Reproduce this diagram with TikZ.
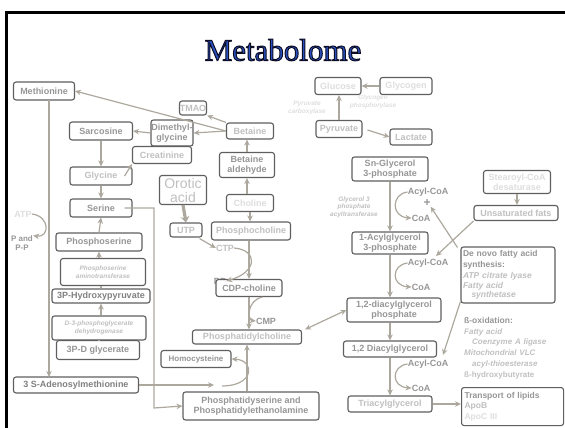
\documentclass[tikz,border=0pt]{standalone}
\usepackage{fontspec}
\setmainfont{Liberation Serif}
\setsansfont{Liberation Sans}
\newfontfamily\titlefont[FakeBold=3.2]{Liberation Serif}
\usetikzlibrary{arrows.meta}
\definecolor{bord}{RGB}{95,95,95}
\definecolor{arrc}{RGB}{173,168,158}
\definecolor{txtA}{RGB}{150,150,150}
\definecolor{txtB}{RGB}{192,192,192}
\definecolor{txtC}{RGB}{222,222,222}
\definecolor{titleblue}{RGB}{40,80,190}
\tikzset{
  box/.style={draw=bord, line width=1.1pt, rounded corners=2.5pt, fill=white,
    inner sep=0pt, align=center, text=txtA,
    font=\sffamily\bfseries\fontsize{9}{10}\selectfont},
  boxsize/.style 2 args={minimum width=#1pt, minimum height=#2pt},
  lite/.style={text=txtB},
  faint/.style={text=txtC},
  enz/.style={box, text=txtB, font=\sffamily\bfseries\itshape\fontsize{6.5}{7.5}\selectfont},
  lbl/.style={inner sep=0pt, text=txtA, align=center, font=\sffamily\bfseries\fontsize{9}{10}\selectfont},
  note/.style={inner sep=0pt, text=txtC, align=center, font=\sffamily\bfseries\itshape\fontsize{6.5}{7.5}\selectfont},
  arr/.style={draw=arrc, line width=1.2pt, -{Stealth[length=6pt,width=5.5pt]}},
  plain/.style={draw=arrc, line width=1.2pt},
  dbl/.style={draw=arrc, line width=1.2pt, {Stealth[length=6pt,width=5.5pt]}-{Stealth[length=6pt,width=5.5pt]}},
}
\begin{document}
\begin{tikzpicture}[x=1pt,y=-1pt]
\useasboundingbox (0,0) rectangle (565,428);
% slide frame
\draw[line width=2.2pt, black] (565,12.5) -- (6.5,12.5) -- (6.5,428);
% title: blue letters with a dark stroked outline
\node[font=\titlefont\fontsize{31}{34}\selectfont] (title) at (283,50)
  {\color{titleblue}\special{pdf:literal 0.05 0.05 0.15 RG}Metabolome};

% ---- one-carbon / amino acid side ----
\node[box, boxsize={61}{18}] (meth) at (44,91) {Methionine};
\node[box, lite, boxsize={27}{14}] (tmac) at (193,108) {TMAO};
\node[box, boxsize={63}{18}] (sarc) at (101,131) {Sarcosine};
\node[box, boxsize={42}{26}] (dmg) at (172,133) {Dimethyl-\\glycine};
\node[box, lite, boxsize={47}{16}] (bet) at (250,131) {Betaine};
\node[box, lite, boxsize={59}{17}] (creat) at (162,155) {Creatinine};
\node[box, lite, boxsize={62}{18}] (gly) at (101,176) {Glycine};
\node[box, boxsize={55}{25}] (betald) at (247,165) {Betaine\\aldehyde};
\node[box, lite, boxsize={47}{29}, font=\sffamily\fontsize{14}{14}\selectfont] (orot) at (183,190) {Orotic\\acid};
\node[box, faint, boxsize={47}{17}] (chol) at (250,203) {Choline};
\node[box, boxsize={62}{18}] (ser) at (101,208) {Serine};
\node[box, lite, boxsize={32}{14}] (utp) at (186,230) {UTP};
\node[box, lite, boxsize={79}{18}] (pchol) at (251,231) {Phosphocholine};
\node[lbl, faint] (atp) at (23,214) {ATP};
\node[lbl, font=\sffamily\bfseries\fontsize{8}{8.5}\selectfont] (ppp) at (22,243) {P and\\P-P};
\node[box, boxsize={86}{18}] (pser) at (99,242) {Phosphoserine};
\node[lbl, lite] (ctp) at (225,248) {CTP};
\node[lbl] (pp) at (220,281) {PP};
\node[enz, boxsize={85}{27}] (psat) at (103,272) {Phosphoserine\\aminotransferase};
\node[box, text=black!50, boxsize={98}{14}] (hpyr) at (101,296) {3P-Hydroxypyruvate};
\node[box, boxsize={66}{17}] (cdp) at (249,288) {CDP-choline};
\node[lbl] (cmp) at (266,321) {CMP};
\node[enz, boxsize={94}{24}] (dh) at (99,328) {D-3-phosphoglycerate\\dehydrogenase};
\node[box, boxsize={83}{19}] (pdg) at (98,350) {3P-D glycerate};
\node[box, lite, boxsize={109}{14}] (pc) at (247,337) {Phosphatidylcholine};
\node[box, boxsize={70}{17}, font=\sffamily\bfseries\fontsize{8}{9}\selectfont] (hcy) at (196,359) {Homocysteine};
\node[box, text=black!50, boxsize={125}{16}] (sam) at (76,385) {3 S-Adenosylmethionine};
\node[box, boxsize={136}{28}] (ps) at (251,406) {Phosphatidyserine and\\Phosphatidylethanolamine};

% ---- carbohydrate / lipid side ----
\node[box, faint, boxsize={46}{17}] (glc) at (338,86) {Glucose};
\node[box, faint, boxsize={52}{17}] (glyc) at (406,86) {Glycogen};
\node[note] (gp) at (373,102) {Glycogen\\phosphorylase};
\node[note] (pcx) at (307,108) {Pyruvate\\carboxylase};
\node[box, lite, boxsize={46}{17}] (pyr) at (339,129) {Pyruvate};
\node[box, lite, boxsize={42}{16}] (lac) at (411,137) {Lactate};
\node[box, boxsize={76}{24}] (sng) at (390,169) {Sn-Glycerol\\3-phosphate};
\node[note, text=txtB] (gpat) at (354,207) {Glycerol 3\\phosphate\\acyltransferase};
\node[lbl] (ac1) at (428,192) {Acyl-CoA};
\node[lbl, font=\sffamily\bfseries\fontsize{12}{12}\selectfont] (plus) at (427,203) {+};
\node[lbl] (coa1) at (421,218) {CoA};
\node[box, faint, boxsize={67}{23}] (scd) at (517,182) {Stearoyl-CoA\\desaturase};
\node[box, lite, boxsize={84}{15}] (uf) at (516,213) {Unsaturated fats};
\node[box, boxsize={76}{22}] (acg) at (390,243) {1-Acylglycerol\\3-phosphate};
\node[lbl] (ac2) at (428,263) {Acyl-CoA};
\node[lbl] (coa2) at (421,287) {CoA};
\node[box, boxsize={94}{56}, align=left, text width=90pt,
  font=\sffamily\bfseries\fontsize{8.5}{11}\selectfont] (dn) at (508,275)
  {De novo fatty acid\\synthesis:\\
   {\color{txtB}\itshape ATP citrate lyase}\\[-1.5pt]
   {\color{txtB}\itshape Fatty acid}\\[-2pt]
   {\color{txtB}\itshape\quad synthetase}};
\node[box, boxsize={94}{24}] (dagp) at (394,310) {1,2-diacylglycerol\\phosphate};
\node[lbl, anchor=north west, align=left, text width=100pt,
  font=\sffamily\bfseries\fontsize{8.5}{10.8}\selectfont] (box) at (464,317)
  {ß-oxidation:\\
   {\color{txtB}\itshape\fontsize{8}{10.8}\selectfont Fatty acid}\\
   {\color{txtB}\itshape\fontsize{8}{10.8}\selectfont\quad Coenzyme A ligase}\\
   {\color{txtB}\itshape\fontsize{8}{10.8}\selectfont Mitochondrial VLC}\\
   {\color{txtB}\itshape\fontsize{8}{10.8}\selectfont\quad acyl-thioesterase}\\
   {\color{txtB}\fontsize{8}{10.8}\selectfont ß-hydroxybutyrate}};
\node[box, boxsize={93}{16}] (dag) at (390,349) {1,2 Diacylglycerol};
\node[lbl] (ac3) at (428,364) {Acyl-CoA};
\node[lbl] (coa3) at (421,388) {CoA};
\node[box, lite, boxsize={84}{16}] (tag) at (390,404) {Triacylglycerol};
\node[box, boxsize={102}{38}, align=left, text width=96pt, anchor=north west,
  font=\sffamily\bfseries\fontsize{8.5}{10.5}\selectfont] (tl) at (461,387)
  {Transport of lipids\\
   {\color{txtB}ApoB}\\
   {\color{txtC}ApoC III}};

% ---- bend points and free ends ----
\coordinate (serA) at (154,208);
\coordinate (serB) at (154,408);
\coordinate (methB) at (49,100);
\coordinate (methC) at (49,377);
\coordinate (samE) at (214,385);
\coordinate (hcyS) at (222,386);

% ---- connectors ----
\draw[arr] (bet.west) -- (meth.east);
\draw[arr] (bet.north west) -- (tmac.south east);
\draw[arr] (bet.west) -- (dmg.east);
\draw[arr] (dmg.west) -- (sarc.east);
\draw[arr] (sarc.south) -- (gly.north);
\draw[arr] (gly.east) ++(-8,0) -- (creat.south west);
\draw[arr] (gly.south) -- (ser.north);
\draw[arr] (pser.north) -- (ser.south);
\draw[arr] (psat.north -| pser.north) -- (pser.south);
\draw[plain] (hpyr.north) -- (hpyr.north |- psat.south);
\draw[arr] (dh.north -| hpyr.south) -- (hpyr.south);
\draw[plain] (pdg.north -| dh.south) -- (dh.south);
\draw[arr] (methB) -- (methC);
\draw[arr] (atp.east) .. controls (50,216) and (50,238) .. (ppp.north east);
\draw[arr] (ser.east) ++(-8,0) -- (serA) -- (serB) -- (ps.west);
\draw[arr] (sam.east) -- (samE);
\draw[arr] (hcyS) .. controls (255,386) and (255,360) .. (hcy.east);
\draw[arr] (ps.north -| pc.south) -- (pc.south);
\draw[draw=arrc, line width=3.2pt, -{Stealth[length=6pt,width=9pt]}] (orot.south) -- (utp.north);
\draw[arr] (utp.south east) ++(-3,1) -- (ctp.west);
\draw[arr] (betald.north) -- (betald.north |- bet.south);
\draw[arr] (chol.north -| betald.south) -- (betald.south);
\draw[arr] (chol.south) -- (chol.south |- pchol.north);
\draw[arr] (pchol.south -| cdp.north) -- (cdp.north);
\draw[arr] (ctp.east) .. controls (258,250) and (258,272) .. (pp.east);
\draw[arr] (cdp.south) -- (cdp.south |- pc.north);
\draw[arr] (cdp.south east) ++(-20,0) .. controls (247,300) and (247,320) .. (cmp.west);
\draw[dbl] (pc.north east) ++(3,0) -- (dagp.west);
\draw[arr] (glyc.west) -- (glc.east);
\draw[arr] (pyr.north) -- (pyr.north |- glc.south);
\draw[arr] (pyr.east) ++(5,1) -- (lac.west);
\draw[arr] (sng.south) -- (acg.north);
\draw[arr] (ac1.west) .. controls (391,194) and (391,217) .. (coa1.west);
\draw[arr] (scd.south) -- (scd.south |- uf.north);
\draw[arr] (uf.south west) -- (436,256);
\draw[arr] (dn.north west) ++(-3,1) -- (plus.south east);
\draw[arr] (dn.south west) ++(0,-2) -- (443,355);
\draw[arr] (acg.south) -- (acg.south |- dagp.north);
\draw[arr] (ac2.west) .. controls (391,265) and (391,286) .. (coa2.west);
\draw[arr] (dagp.south -| dag.north) -- (dag.north);
\draw[arr] (dag.south) -- (tag.north);
\draw[arr] (ac3.west) .. controls (391,366) and (391,387) .. (coa3.west);
\draw[arr] (tag.east) -- (tl.west |- tag.east);
\end{tikzpicture}
\end{document}
